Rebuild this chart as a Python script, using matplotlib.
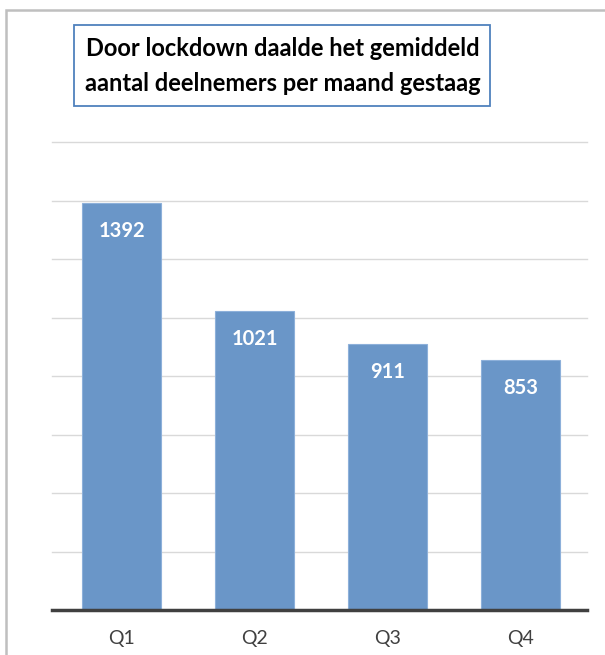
import matplotlib.pyplot as plt
from matplotlib.patches import Rectangle

# Datos del grafico
kwartalen = ["Q1", "Q2", "Q3", "Q4"]
deelnemers = [1392, 1021, 911, 853]
titel = "Door lockdown daalde het gemiddeld\naantal deelnemers per maand gestaag"

W, H = 605, 655
fig = plt.figure(figsize=(W / 100, H / 100), dpi=100)
plt.rcParams['font.family'] = ['Lato', 'DejaVu Sans']


def fx(px):
    return px / W


def fy(py):
    return 1 - py / H


# Marco exterior gris
fig.patches.append(Rectangle((fx(6), fy(700)), fx(700), fy(10) - fy(700), transform=fig.transFigure,
                             fill=False, edgecolor="#BFBFBF", linewidth=1.8))

ax = fig.add_axes([fx(52), fy(610), fx(587) - fx(52), fy(142) - fy(610)])
barras = ax.bar(range(len(kwartalen)), deelnemers, width=0.595, color="#6A96C8",
                edgecolor="#8DB0DA", linewidth=0.8, zorder=2)
ax.set_xlim(-0.523, 3.5)
ax.set_ylim(0, 1600)
ax.set_yticks(range(200, 1601, 200))
ax.yaxis.grid(True, color="#D9D9D9", linewidth=1.0, zorder=0)
for linea in ax.get_ygridlines():
    linea.set_clip_on(False)
ax.tick_params(axis="y", left=False, labelleft=False)
ax.tick_params(axis="x", bottom=False, labelsize=14, colors="#404040", pad=11)
ax.set_xticks(range(len(kwartalen)))
ax.set_xticklabels(kwartalen)
for lado in ["top", "right", "left"]:
    ax.spines[lado].set_visible(False)
ax.spines["bottom"].set_color("#404040")
ax.spines["bottom"].set_linewidth(2.5)
ax.spines["bottom"].set_zorder(3)

for barra, valor in zip(barras, deelnemers):
    ax.annotate(str(valor), (barra.get_x() + barra.get_width() / 2, valor),
                xytext=(0, -28), textcoords="offset pixels",
                ha="center", va="center", color="white", fontsize=14.5, fontweight="bold")

# Caja del titulo
fig.patches.append(Rectangle((fx(74), fy(106)), fx(490) - fx(74), fy(25) - fy(106), transform=fig.transFigure,
                             facecolor="white", edgecolor="#4F81BD", linewidth=1.3, zorder=5))
fig.text(fx(283), fy(66), titel, ha="center", va="center", fontsize=17, fontweight="bold",
         linespacing=1.6, color="black", zorder=6)

fig.savefig("out.png", dpi=100)
